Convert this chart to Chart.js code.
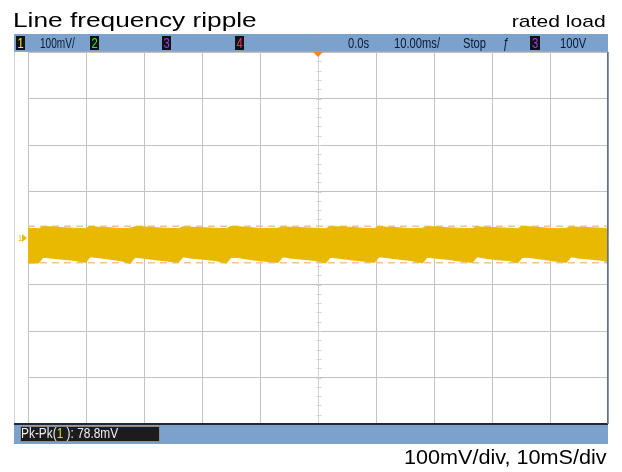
<!DOCTYPE html>
<html>
<head>
<meta charset="utf-8">
<script src="https://cdn.jsdelivr.net/npm/chart.js@4.4.1/dist/chart.umd.min.js"></script>
<style>
  html, body { margin: 0; padding: 0; background: #fff; }
  #wrap { position: relative; width: 622px; height: 472px; overflow: hidden; }
  #grafica { position: absolute; left: 0; top: 0; }
  .cap { position: absolute; font-family: 'Liberation Sans', Arial, sans-serif; color: #000; line-height: 1; white-space: nowrap; }
  #titulo { left: 13px; top: 9px; font-size: 21px; transform: scaleX(1.25); transform-origin: left top; }
  #carga { right: 16px; top: 13px; font-size: 17px; transform: scaleX(1.24); transform-origin: right top; }
  #escala { right: 16px; top: 447px; font-size: 20px; transform: scaleX(1.08); transform-origin: right top; }
</style>
</head>
<body>
<div id="wrap">
  <canvas id="grafica" width="622" height="472"></canvas>
  <div class="cap" id="titulo">Line frequency ripple</div>
  <div class="cap" id="carga">rated load</div>
  <div class="cap" id="escala">100mV/div, 10mS/div</div>
</div>
<script>
// tiempo en ms (10 ms/div, disparo al centro)
const tiempos = [
  -50,
  -48.2, -47.4, -45.9, -43.9, -41.9,
  -40.1, -39.3, -37.8, -35.8, -33.8,
  -32.4, -31.6, -30.1, -28.1, -26.1,
  -24.1, -23.3, -21.8, -19.8, -17.8,
  -15.8, -15.0, -13.5, -11.5, -9.5,
  -6.9, -6.1, -4.6, -2.6, -0.6,
  1.3, 2.1, 3.6, 5.6, 7.6,
  9.7, 10.5, 12.0, 14.0, 16.0,
  18.0, 18.8, 20.3, 22.3, 24.3,
  26.6, 27.4, 28.9, 30.9, 32.9,
  34.4, 35.2, 36.7, 38.7, 40.7,
  42.8, 43.6, 45.1, 47.1, 49.1,
  50
];

// borde superior de la banda (mV)
const bordeSup = [
  21,
  20, 24, 24, 22, 21,
  20, 25, 23, 22, 20,
  21, 24, 24, 22, 21,
  20, 24, 23, 22, 21,
  20, 25, 24, 22, 20,
  21, 24, 23, 22, 21,
  20, 24, 24, 23, 21,
  20, 25, 23, 22, 20,
  21, 24, 24, 22, 21,
  20, 24, 23, 22, 21,
  20, 25, 24, 22, 20,
  21, 24, 23, 22, 21,
  20
];

// borde inferior de la banda (mV)
const bordeInf = [
  -53,
  -53, -41, -43, -45, -48,
  -52, -40, -42, -45, -49,
  -54, -41, -43, -46, -49,
  -52, -40, -43, -45, -48,
  -53, -41, -42, -46, -49,
  -52, -40, -43, -45, -48,
  -53, -41, -43, -46, -49,
  -52, -40, -42, -45, -48,
  -53, -41, -43, -45, -49,
  -52, -40, -43, -46, -48,
  -53, -41, -42, -45, -49,
  -52, -40, -43, -45, -48,
  -51
];

// cursores de medida Pk-Pk (mV)
const pkMax = 25.5;
const pkMin = -53.3;

// textos de la barra del osciloscopio
const canales = ['1', '2', '3', '4'];
const escalaCanal = '100mV/';
const estado = ['0.0s', '10.00ms/', 'Stop'];
const disparo = ['\u0192', '3', '100V'];
const medida = ['Pk-Pk(', '1', ' ): 78.8mV'];

const AMARILLO = '#e9b800';
const FUENTE = "'Liberation Sans', Arial, sans-serif";

// texto estrecho (la pantalla del osciloscopio usa una letra condensada)
function texto(ctx, s, x, y, color, sx = 0.8, size = 14) {
  ctx.save();
  ctx.translate(x, y);
  ctx.scale(sx, 1);
  ctx.font = size + 'px ' + FUENTE;
  ctx.fillStyle = color;
  ctx.textBaseline = 'alphabetic';
  ctx.fillText(s, 0, 0);
  const w = ctx.measureText(s).width * sx;
  ctx.restore();
  return w;
}

function caja(ctx, x, y, w, h, txt, color) {
  ctx.fillStyle = '#111';
  ctx.fillRect(x, y, w, h);
  ctx.save();
  ctx.font = '14px ' + FUENTE;
  const tw = ctx.measureText(txt).width * 0.8;
  ctx.restore();
  texto(ctx, txt, x + (w - tw) / 2, y + h - 2, color);
}

const osciloscopio = {
  id: 'osciloscopio',
  beforeDatasetsDraw(chart) {
    const { ctx, chartArea: a, scales: { x, y } } = chart;
    const cx = Math.round(x.getPixelForValue(0)) + 0.5;
    const cy = Math.round(y.getPixelForValue(0)) + 0.5;
    ctx.save();
    ctx.strokeStyle = '#d2d2d2';
    ctx.lineWidth = 1;
    ctx.beginPath();
    ctx.moveTo(cx, a.top); ctx.lineTo(cx, a.bottom);
    ctx.moveTo(a.left, cy); ctx.lineTo(a.right, cy);
    for (let v = -400; v <= 400; v += 20) {
      const py = Math.round(y.getPixelForValue(v)) + 0.5;
      ctx.moveTo(cx - 2, py); ctx.lineTo(cx + 3, py);
    }
    for (let t = -50; t <= 50; t += 2) {
      const px = Math.round(x.getPixelForValue(t)) + 0.5;
      ctx.moveTo(px, cy - 2); ctx.lineTo(px, cy + 3);
    }
    ctx.stroke();
    ctx.restore();
  },
  afterDraw(chart) {
    const { ctx, chartArea: a, scales: { x, y } } = chart;
    const izq = 15;
    ctx.save();
    // borde izquierdo claro
    ctx.fillStyle = '#d4d4d4';
    ctx.fillRect(izq - 1, a.top, 1, a.bottom - a.top);
    // barras azules
    ctx.fillStyle = '#7ba1cd';
    ctx.fillRect(izq - 1, a.top - 18, a.right - izq + 1, 18);
    ctx.fillRect(izq - 1, a.bottom, a.right - izq + 1, 20);
    ctx.fillStyle = '#9aa6b8';
    ctx.fillRect(izq - 1, a.top - 1, a.right - izq + 1, 1);
    ctx.fillStyle = '#1f2738';
    ctx.fillRect(izq - 1, a.bottom - 1, a.right - izq + 1, 2);
    ctx.fillStyle = '#5d7190';
    ctx.fillRect(a.right - 1, a.top, 1.5, a.bottom - a.top);

    // barra superior
    const by = a.top - 16;
    const base = a.top - 4;
    const tinta = '#0c1833';
    const coloresCanal = ['#f2e82a', '#3fdc3f', '#9a3cf0', '#f0306e'];
    const posCanal = [16, 90, 162, 235];
    canales.forEach((c, i) => caja(ctx, posCanal[i], by, 9, 14, c, coloresCanal[i]));
    texto(ctx, escalaCanal, 40, base, tinta, 0.72);
    texto(ctx, estado[0], 348, base, tinta);
    texto(ctx, estado[1], 394, base, tinta);
    texto(ctx, estado[2], 463, base, tinta);
    texto(ctx, disparo[0], 503, base, tinta);
    caja(ctx, 530, by, 10, 14, disparo[1], '#9a3cf0');
    texto(ctx, disparo[2], 560, base, tinta);

    // icono de adquisicion
    const ix = x.getPixelForValue(0) - 3, iy = a.top - 9;
    ctx.strokeStyle = '#8e9cb4';
    ctx.lineWidth = 1;
    ctx.beginPath();
    for (let k = 0; k < 8; k++) {
      const ang = k * Math.PI / 4;
      ctx.moveTo(ix + Math.cos(ang) * 2.5, iy + Math.sin(ang) * 2.5);
      ctx.lineTo(ix + Math.cos(ang) * 6, iy + Math.sin(ang) * 6);
    }
    ctx.stroke();

    // marcador de disparo (naranja)
    const tx = x.getPixelForValue(0);
    ctx.fillStyle = '#f08a1c';
    ctx.beginPath();
    ctx.moveTo(tx - 5, a.top); ctx.lineTo(tx + 5, a.top); ctx.lineTo(tx, a.top + 5);
    ctx.closePath();
    ctx.fill();

    // marcador de tierra canal 1
    const gy = y.getPixelForValue(0);
    texto(ctx, canales[0], 18, gy + 3, AMARILLO, 0.8, 9);
    ctx.fillStyle = AMARILLO;
    ctx.beginPath();
    ctx.moveTo(22, gy - 4); ctx.lineTo(27, gy); ctx.lineTo(22, gy + 4);
    ctx.closePath();
    ctx.fill();

    // caja de medida
    ctx.fillStyle = '#1c1c1c';
    ctx.fillRect(20, a.bottom + 2, 140, 16);
    ctx.strokeStyle = '#8c8c8c';
    ctx.lineWidth = 1;
    ctx.strokeRect(20.5, a.bottom + 2.5, 139, 15);
    let mx = 21;
    const my = a.bottom + 14;
    mx += texto(ctx, medida[0], mx, my, '#f0f0f0', 0.85);
    mx += texto(ctx, medida[1], mx, my, '#e8d820', 0.85);
    texto(ctx, medida[2], mx, my, '#f0f0f0', 0.85);
    ctx.restore();
  }
};

const ctx = document.getElementById('grafica').getContext('2d');
const puntos = (vals) => tiempos.map((t, i) => ({ x: t, y: vals[i] }));

const chart = new Chart(ctx, {
  type: 'line',
  data: {
    datasets: [
      {
        label: 'sup',
        data: puntos(bordeSup),
        borderColor: AMARILLO,
        backgroundColor: AMARILLO,
        borderWidth: 1,
        pointRadius: 0,
        fill: '+1'
      },
      {
        label: 'inf',
        data: puntos(bordeInf),
        borderColor: '#ebbc10',
        borderWidth: 1.5,
        pointRadius: 0,
        fill: false
      },
      {
        label: 'max',
        data: [{ x: -50, y: pkMax }, { x: 50, y: pkMax }],
        borderColor: '#efc29c',
        borderWidth: 1.5,
        borderDash: [7, 5],
        pointRadius: 0,
        fill: false
      },
      {
        label: 'min',
        data: [{ x: -50, y: pkMin }, { x: 50, y: pkMin }],
        borderColor: '#efc29c',
        borderWidth: 1.5,
        borderDash: [7, 5],
        pointRadius: 0,
        fill: false
      }
    ]
  },
  options: {
    responsive: false,
    animation: false,
    layout: { padding: { left: 28, right: 14, top: 52, bottom: 48 } },
    plugins: { legend: { display: false }, tooltip: { enabled: false } },
    scales: {
      x: {
        type: 'linear',
        min: -50,
        max: 50,
        ticks: { display: false, stepSize: 10 },
        border: { display: false },
        grid: {
          drawTicks: false,
          color: (c) => c.tick && c.tick.value === 0 ? 'rgba(0,0,0,0)' : '#c2c2c2'
        }
      },
      y: {
        min: -400,
        max: 400,
        ticks: { display: false, stepSize: 100 },
        border: { display: false },
        grid: {
          drawTicks: false,
          color: (c) => c.tick && c.tick.value === 0 ? 'rgba(0,0,0,0)' : '#c2c2c2'
        }
      }
    }
  },
  plugins: [osciloscopio]
});
</script>
</body>
</html>
